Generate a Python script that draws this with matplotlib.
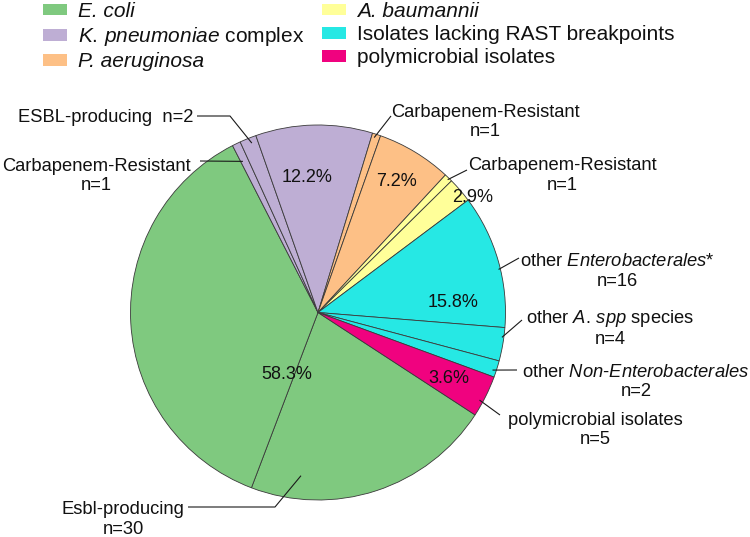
import numpy as np
import matplotlib
matplotlib.use("Agg")
import matplotlib.pyplot as plt
from matplotlib.patches import Patch

plt.rcParams['font.family'] = ['Liberation Sans', 'DejaVu Sans']
plt.rcParams['mathtext.fontset'] = 'custom'
plt.rcParams['mathtext.rm'] = 'Liberation Sans'
plt.rcParams['mathtext.it'] = 'Liberation Sans:italic'

# ---------------- data ----------------
groups = ['E. coli', r'$\mathit{K.\,pneumoniae}$ complex', 'P. aeruginosa',
          'A. baumannii', 'Isolates lacking RAST breakpoints', 'polymicrobial isolates']
group_italic = [True, False, True, True, False, False]
group_colors = ['#7fc97f', '#beaed4', '#fdc086', '#ffff99', '#26e8e4', '#f0027f']

# sub-slices (clockwise order) : group index and isolate counts
sub_group = [0, 0, 1, 1, 1, 2, 2, 3, 3, 4, 4, 4, 5]
sub_n = [30, 51, 1, 2, 14, 1, 9, 1, 3, 16, 4, 2, 5]
sub_names = ['Esbl-producing', None, 'Carbapenem-Resistant', 'ESBL-producing', None,
             'Carbapenem-Resistant', None, 'Carbapenem-Resistant', None,
             r'other $\mathit{Enterobacterales}$*', r'other $\mathit{A.\,spp}$ species',
             r'other $\mathit{Non}$-$\mathit{Enterobacterales}$', 'polymicrobial isolates']

# ---------------- layout helpers ----------------
W, H = 750, 537
CX, CY, R = 318.0, 312.5, 187.5
LINE = 22.0  # px between the two lines of a callout


def px(x, y):
    """figure pixel (origin top-left) -> data coords of the pie axes"""
    return (x - CX) / R, (CY - y) / R


fig = plt.figure(figsize=(W / 100, H / 100), dpi=100)
ax = fig.add_axes([(CX - R) / W, (H - CY - R) / H, 2 * R / W, 2 * R / H])

colors = [group_colors[g] for g in sub_group]
wedges, _ = ax.pie(sub_n, colors=colors, startangle=-33.1, counterclock=False,
                   radius=1.0, wedgeprops=dict(edgecolor='#3a3a3a', linewidth=0.6))
ax.set_xlim(-1, 1)
ax.set_ylim(-1, 1)
ax.set_aspect('equal')
ax.axis('off')

total = sum(sub_n)
mids = [0.5 * (w.theta1 + w.theta2) for w in wedges]

# group percentage labels: (angle deg, radius) layout
pct_pos = [(-117.0, 0.37), (94.7, 0.724), (59.2, 0.816), (36.6, 1.03), (4.3, 0.72), (-26.7, 0.78)]
group_tot = [sum(n for n, g in zip(sub_n, sub_group) if g == gi) for gi in range(len(groups))]
for gi, (a, r) in enumerate(pct_pos):
    t = np.deg2rad(a)
    ax.text(r * np.cos(t), r * np.sin(t), f"{100 * group_tot[gi] / total:.1f}%",
            ha='center', va='center', fontsize=13, color='#111111')

# callout labels: sub index, text x / first-line baseline y (px), ha, leader pts (px), tip (dtheta, r)
callouts = [
    (3, 193, 121.5, 'right', [(197, 116), (230, 116)], (-0.6, 0.97), False),
    (2, 96, 168.5, 'center', [(200, 161)], (0.6, 0.90), True),
    (5, 485, 114.5, 'center', [(391, 116)], (0.4, 0.98), True),
    (7, 562, 168.0, 'center', [(467, 170)], (-0.2, 0.99), True),
    (9, 617, 263.5, 'center', [(519, 258)], (-2.7, 0.99), True),
    (10, 610, 322.5, 'center', [(522, 320)], (2.1, 0.99), True),
    (11, 636, 374.5, 'center', [(517, 370)], (-0.7, 0.98), True),
    (12, 595, 422.5, 'center', [(500, 415)], (-1.85, 0.98), True),
    (0, 123, 511.5, 'center', [(188, 507), (275, 507)], (-24.0, 0.875), True),
]
for si, tx, ty, ha, pts, (dth, rr), two_lines in callouts:
    label = sub_names[si] + ("\n" if two_lines else "  ") + f"n={sub_n[si]}"
    # va='baseline' anchors the last line; shift for two-line labels
    x, y = px(tx, ty + (LINE if two_lines else 0))
    ax.text(x, y, label, ha=ha, va='baseline', multialignment='center',
            fontsize=13.2, color='#111111', linespacing=1.2, clip_on=False)
    t = np.deg2rad(mids[si] + dth)
    xs = [px(*p)[0] for p in pts] + [rr * np.cos(t)]
    ys = [px(*p)[1] for p in pts] + [rr * np.sin(t)]
    ax.plot(xs, ys, color='#1a1a1a', lw=0.8, clip_on=False, solid_capstyle='butt')

# legend: two columns built as two legends
handles = [Patch(facecolor=c, edgecolor='none') for c in group_colors]
leg_kw = dict(frameon=False, fontsize=15, handlelength=1.15, handleheight=0.48,
              handletextpad=0.53, labelspacing=0.2, borderpad=0, borderaxespad=0,
              loc='upper left')
leg1 = fig.legend(handles[:3], groups[:3], bbox_to_anchor=(43 / W, 1 - 2 / H), **leg_kw)
leg2 = fig.legend(handles[3:], groups[3:], bbox_to_anchor=(322 / W, 1 - 2 / H), **leg_kw)
for leg, its in ((leg1, group_italic[:3]), (leg2, group_italic[3:])):
    for txt, it in zip(leg.get_texts(), its):
        if it:
            txt.set_fontstyle('italic')
        txt.set_color('#111111')

fig.savefig('out.png', dpi=100)
